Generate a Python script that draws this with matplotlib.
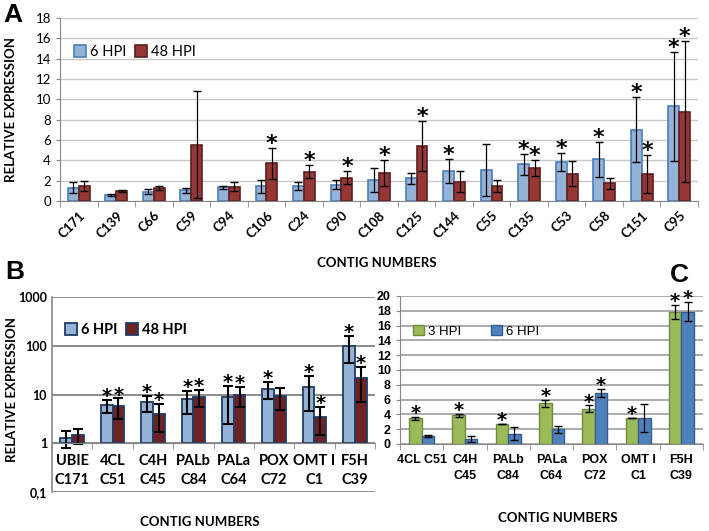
import matplotlib
matplotlib.use("Agg")
import matplotlib.pyplot as plt
import numpy as np

# Panel A data
contigs_a = ["C171", "C139", "C66", "C59", "C94", "C106", "C24", "C90", "C108",
             "C125", "C144", "C55", "C135", "C53", "C58", "C151", "C95"]
a_6hpi = [1.3, 0.6, 0.9, 1.05, 1.35, 1.45, 1.5, 1.6, 2.05, 2.25, 2.95, 3.05, 3.6, 3.85, 4.1, 7.0, 9.3]
a_6hpi_err = [0.55, 0.1, 0.25, 0.25, 0.15, 0.65, 0.4, 0.45, 1.2, 0.55, 1.2, 2.6, 1.0, 0.85, 1.75, 3.2, 5.4]
a_48hpi = [1.45, 1.0, 1.3, 5.55, 1.4, 3.7, 2.9, 2.3, 2.75, 5.4, 1.9, 1.5, 3.25, 2.7, 1.75, 2.65, 8.8]
a_48hpi_err = [0.5, 0.1, 0.2, 5.3, 0.45, 1.55, 0.65, 0.65, 1.25, 2.45, 1.05, 0.6, 0.8, 1.2, 0.55, 1.85, 6.95]
a_6hpi_sig = [0, 0, 0, 0, 0, 0, 0, 0, 0, 0, 1, 0, 1, 1, 1, 1, 1]
a_48hpi_sig = [0, 0, 0, 0, 0, 1, 1, 1, 1, 1, 0, 0, 1, 0, 0, 1, 1]

# Panel B data (log scale)
genes_b = ["UBIE\nC171", "4CL\nC51", "C4H\nC45", "PALb\nC84", "PALa\nC64", "POX\nC72", "OMT I\nC1", "F5H\nC39"]
b_6hpi = [1.3, 6.0, 6.9, 7.9, 8.7, 13.0, 14.5, 100]
b_6hpi_err = [0.5, 1.8, 2.5, 4.0, 6.2, 4.8, 10.0, 56]
b_48hpi = [1.45, 5.7, 4.0, 9.0, 9.9, 9.2, 3.5, 22]
b_48hpi_err = [0.5, 2.6, 2.3, 3.4, 4.3, 4.5, 2.0, 15]
b_6hpi_sig = [0, 1, 1, 1, 1, 1, 1, 1]
b_48hpi_sig = [0, 1, 1, 1, 1, 0, 1, 1]
b_yticks = [0.1, 1, 10, 100, 1000]
b_yticklabels = ["0,1", "1", "10", "100", "1000"]

# Panel C data
genes_c = ["4CL C51", "C4H\nC45", "PALb\nC84", "PALa\nC64", "POX\nC72", "OMT I\nC1", "F5H\nC39"]
c_3hpi = [3.5, 3.9, 2.7, 5.48, 4.76, 3.55, 17.9]
c_3hpi_err = [0.2, 0.2, 0.05, 0.5, 0.45, 0.03, 0.95]
c_6hpi = [1.08, 0.67, 1.4, 2.0, 6.9, 3.55, 17.9]
c_6hpi_err = [0.1, 0.38, 0.85, 0.45, 0.5, 1.9, 1.3]
c_3hpi_sig = [1, 1, 1, 1, 1, 1, 1]
c_6hpi_sig = [0, 0, 0, 0, 1, 0, 1]

CAL = "Lato"
ARI = "Liberation Sans"
W = 0.29

fig = plt.figure(figsize=(7.09, 5.31), dpi=100)


def px_axes(left, top, right, bottom):
    # build axes from pixel box of the 709x531 canvas
    return fig.add_axes([left / 709, 1 - bottom / 531, (right - left) / 709, (bottom - top) / 531])


def add_stars(ax, xs, tops, flags, size, off):
    for x, t, f in zip(xs, tops, flags):
        if f:
            ax.annotate("*", (x, t), xytext=(0, off), textcoords="offset points",
                        ha="center", va="baseline", fontsize=size,
                        fontweight="bold", family="DejaVu Sans")


def style_cat_axis(ax, n, grid_color, grid_lw):
    ax.set_xlim(-0.5, n - 0.5)
    ax.set_xticks(np.arange(n))
    ax.set_xticks(np.arange(n + 1) - 0.5, minor=True)
    ax.tick_params(axis="x", which="major", length=0)
    ax.tick_params(axis="x", which="minor", length=4, color="#888888")
    ax.yaxis.grid(True, color=grid_color, lw=grid_lw)
    ax.set_axisbelow(True)
    for s in ["top", "right"]:
        ax.spines[s].set_visible(False)
    ax.spines["left"].set_color("#888888")
    ax.spines["bottom"].set_color("#888888")
    ax.tick_params(axis="y", length=3, color="#888888")


def put_legend(ax, px, py, spacing, prop):
    ax.legend(loc="upper left", bbox_to_anchor=(px / 709, 1 - py / 531), bbox_transform=fig.transFigure,
              ncol=2, frameon=False, handlelength=0.8, handleheight=0.8, handletextpad=0.3,
              borderpad=0, borderaxespad=0, columnspacing=spacing, prop=prop)


# ---------------- Panel A ----------------
axA = px_axes(60, 18, 698, 201)
xa = np.arange(len(contigs_a))
axA.bar(xa - W / 2, a_6hpi, W, color="#95B3D7", edgecolor="#4A7EBB", lw=1.2, label="6 HPI")
axA.bar(xa + W / 2, a_48hpi, W, color="#953735", edgecolor="#5E1F1D", lw=1.2, label="48 HPI")
axA.errorbar(xa - W / 2, a_6hpi, yerr=a_6hpi_err, fmt="none", ecolor="black", elinewidth=0.9, capsize=3)
axA.errorbar(xa + W / 2, a_48hpi, yerr=a_48hpi_err, fmt="none", ecolor="black", elinewidth=0.9, capsize=3)
add_stars(axA, xa - W / 2, np.add(a_6hpi, a_6hpi_err), a_6hpi_sig, 16, -1.5)
add_stars(axA, xa + W / 2, np.add(a_48hpi, a_48hpi_err), a_48hpi_sig, 16, -1.5)
style_cat_axis(axA, len(contigs_a), "#C8C8C8", 1.0)
axA.set_ylim(0, 18)
axA.set_yticks(range(0, 19, 2))
axA.set_yticklabels([str(v) for v in range(0, 19, 2)], family=CAL, fontsize=9.5)
axA.set_xticklabels(contigs_a, rotation=45, ha="right", rotation_mode="anchor",
                    family=CAL, fontsize=9.5, fontweight="bold")
axA.tick_params(axis="x", which="major", pad=6)
put_legend(axA, 74, 45, 0.6, {"family": CAL, "size": 10.5})

# ---------------- Panel B ----------------
axB = px_axes(52, 297, 375, 492)
xb = np.arange(len(genes_b))
base = 1.0
axB.set_yscale("log")
axB.bar(xb - W / 2, np.subtract(b_6hpi, base), W, bottom=base, color="#95B3D7", edgecolor="#1F3D66", lw=1.3, label="6 HPI")
axB.bar(xb + W / 2, np.subtract(b_48hpi, base), W, bottom=base, color="#6E2222", edgecolor="#1F3D66", lw=1.3, label="48 HPI")
axB.errorbar(xb - W / 2, b_6hpi, yerr=b_6hpi_err, fmt="none", ecolor="black", elinewidth=1.5, capsize=3.5, capthick=1.5)
axB.errorbar(xb + W / 2, b_48hpi, yerr=b_48hpi_err, fmt="none", ecolor="black", elinewidth=1.5, capsize=3.5, capthick=1.5)
add_stars(axB, xb - W / 2, np.add(b_6hpi, b_6hpi_err), b_6hpi_sig, 14, -1.5)
add_stars(axB, xb + W / 2, np.add(b_48hpi, b_48hpi_err), b_48hpi_sig, 14, -1.5)
style_cat_axis(axB, len(genes_b), "#8C8C8C", 1.4)
axB.set_ylim(0.1, 1000)
axB.set_yticks(b_yticks)
axB.set_yticklabels(b_yticklabels, family=CAL, fontsize=9, fontweight="bold")
axB.yaxis.set_minor_locator(matplotlib.ticker.NullLocator())
axB.tick_params(axis="y", length=0)
axB.spines["bottom"].set_position(("data", 1))
axB.spines["left"].set_linewidth(1.2)
axB.set_xticklabels(genes_b, family=CAL, fontsize=10.5, fontweight="bold", linespacing=1.45)
axB.tick_params(axis="x", which="major", pad=8)
put_legend(axB, 65, 323, 0.6, {"family": CAL, "size": 10.5, "weight": "bold"})

# ---------------- Panel C ----------------
axC = px_axes(400, 296, 703, 444)
xc = np.arange(len(genes_c))
axC.bar(xc - W / 2, c_3hpi, W, color="#9BBB59", edgecolor="#71893F", lw=1.0, label="3 HPI")
axC.bar(xc + W / 2, c_6hpi, W, color="#4F81BD", edgecolor="#385D8A", lw=1.0, label="6 HPI")
axC.errorbar(xc - W / 2, c_3hpi, yerr=c_3hpi_err, fmt="none", ecolor="black", elinewidth=0.9, capsize=3)
axC.errorbar(xc + W / 2, c_6hpi, yerr=c_6hpi_err, fmt="none", ecolor="black", elinewidth=0.9, capsize=3)
add_stars(axC, xc - W / 2, np.add(c_3hpi, c_3hpi_err), c_3hpi_sig, 14, -1.5)
add_stars(axC, xc + W / 2, np.add(c_6hpi, c_6hpi_err), c_6hpi_sig, 14, -1.5)
style_cat_axis(axC, len(genes_c), "#A6A6A6", 1.3)
axC.set_ylim(0, 20)
axC.set_yticks(range(0, 21, 2))
axC.set_yticklabels([str(v) for v in range(0, 21, 2)], family=ARI, fontsize=9, fontweight="bold")
axC.set_xticklabels(genes_c, family=ARI, fontsize=9, fontweight="bold", linespacing=1.5)
axC.tick_params(axis="x", which="major", pad=7)
put_legend(axC, 413, 325, 2.3, {"family": ARI, "size": 9.5})

# ---------------- labels ----------------
fig.text(3 / 709, 1 - 3 / 531, "A", family=ARI, fontsize=19, fontweight="bold", va="top")
fig.text(5 / 709, 1 - 260 / 531, "B", family=ARI, fontsize=19, fontweight="bold", va="top")
fig.text(670 / 709, 1 - 263 / 531, "C", family=ARI, fontsize=19, fontweight="bold", va="top")

fig.text(11 / 709, 1 - 110 / 531, "RELATIVE EXPRESSION", family=CAL, fontsize=9.5,
         fontweight="bold", rotation=90, ha="center", va="center")
fig.text(12 / 709, 1 - 390 / 531, "RELATIVE EXPRESSION", family=CAL, fontsize=9.5,
         fontweight="bold", rotation=90, ha="center", va="center")
fig.text(377 / 709, 1 - 263 / 531, "CONTIG NUMBERS", family=CAL, fontsize=9.5,
         fontweight="bold", ha="center", va="center")
fig.text(200 / 709, 1 - 522 / 531, "CONTIG NUMBERS", family=CAL, fontsize=9.5,
         fontweight="bold", ha="center", va="center")
fig.text(558 / 709, 1 - 518 / 531, "CONTIG NUMBERS", family=CAL, fontsize=9.5,
         fontweight="bold", ha="center", va="center")

fig.savefig("out.png", dpi=100)
